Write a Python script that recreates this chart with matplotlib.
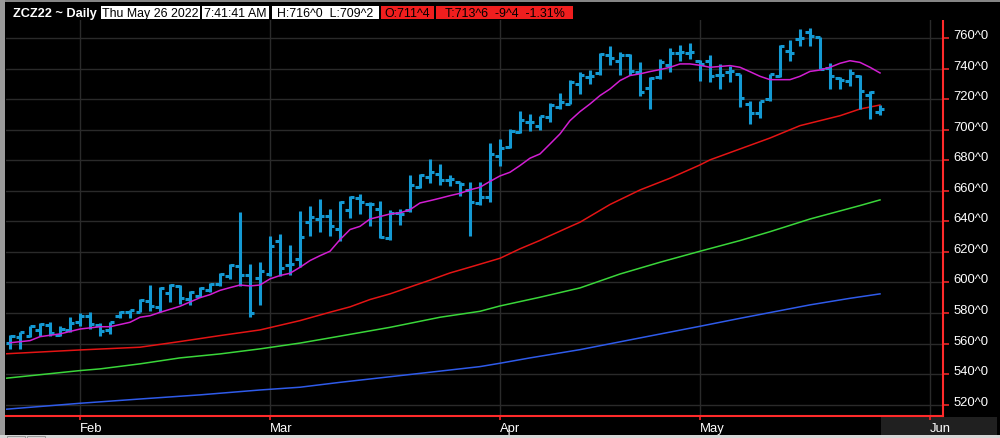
import matplotlib
matplotlib.use('Agg')
import matplotlib.pyplot as plt
from matplotlib.patches import Rectangle

# ---------------- data ----------------
jan_days = [21, 24, 25, 26, 27, 28, 31]
feb_days = [1, 2, 3, 4, 7, 8, 9, 10, 11, 14, 15, 16, 17, 18, 22, 23, 24, 25, 28]
mar_days = [1, 2, 3, 4, 7, 8, 9, 10, 11, 14, 15, 16, 17, 18, 21, 22, 23, 24, 25, 28, 29, 30, 31]
apr_days = [1, 4, 5, 6, 7, 8, 11, 12, 13, 14, 18, 19, 20, 21, 22, 25, 26, 27, 28, 29]
may_days = [2, 3, 4, 5, 6, 9, 10, 11, 12, 13, 16, 17, 18, 19, 20, 23, 24, 25, 26]
dates = ([f"2022-01-{d:02d}" for d in jan_days] + [f"2022-02-{d:02d}" for d in feb_days]
         + [f"2022-03-{d:02d}" for d in mar_days] + [f"2022-04-{d:02d}" for d in apr_days]
         + [f"2022-05-{d:02d}" for d in may_days])

opens = [560.1, 564.5, 564.7, 568.9, 572.1, 565.6, 568.9,
         574.3, 577.8, 572.1, 569.1, 577.8, 580.4, 580.9, 588.1, 583.7, 592.9, 597.9, 589.2, 591.3, 595.3,
         599.0, 604.4, 611.0, 604.9, 602.7,
         605.5, 626.9, 611.7, 615.4, 639.4, 641.5, 643.3, 635.0, 647.6, 655.3, 651.4, 648.1, 628.9, 645.5,
         647.6, 662.3, 668.8, 671.0, 667.1, 665.5, 660.7, 652.0, 655.7,
         682.6, 688.5, 698.7, 705.3, 702.6, 708.1, 714.6, 716.8, 729.9, 734.3, 736.9, 748.9, 745.2, 748.9,
         737.5, 727.1, 734.3, 742.3, 750.2, 750.2,
         745.2, 745.1, 735.7, 737.5, 736.4, 716.8, 710.7, 720.0, 735.3, 751.7, 759.3, 764.1, 760.4, 740.1,
         733.6, 732.0, 735.3, 722.7, 711.5]
highs = [565.8, 567.8, 571.7, 573.2, 573.9, 571.3, 577.2,
         579.8, 580.4, 573.4, 574.3, 581.3, 582.2, 589.2, 598.3, 596.8, 599.0, 598.3, 594.2, 596.8, 599.4,
         606.2, 611.8, 646.0, 612.1, 613.2,
         630.2, 631.5, 624.5, 647.0, 649.8, 654.6, 648.1, 653.5, 656.4, 657.9, 652.9, 653.5, 647.4, 648.1,
         670.3, 671.0, 680.8, 677.5, 670.3, 665.9, 666.0, 666.0, 691.3,
         693.9, 700.5, 712.0, 710.3, 709.2, 717.5, 724.0, 732.5, 737.5, 739.1, 750.0, 754.6, 750.6, 749.2,
         744.1, 734.3, 746.3, 753.5, 755.4, 756.7,
         745.5, 748.8, 743.0, 741.9, 736.6, 719.0, 719.0, 736.4, 755.4, 758.9, 765.9, 766.3, 760.6, 743.6,
         734.7, 739.7, 735.5, 725.5, 716.0]
lows = [556.4, 556.4, 564.1, 565.2, 564.7, 565.2, 567.8,
        571.7, 569.5, 564.7, 566.2, 576.9, 576.5, 580.4, 581.5, 580.4, 587.0, 585.9, 585.2, 590.2, 593.5,
        597.4, 602.2, 597.5, 577.2, 585.5,
        604.0, 604.5, 604.9, 609.9, 630.6, 632.8, 630.6, 627.4, 642.0, 644.8, 637.2, 628.9, 628.0, 637.6,
        646.3, 661.6, 665.1, 663.8, 662.9, 656.8, 630.6, 650.9, 652.9,
        676.0, 687.8, 697.6, 699.4, 700.0, 704.8, 713.5, 716.8, 723.4, 729.9, 735.8, 742.3, 735.8, 735.8,
        722.3, 713.5, 733.2, 738.0, 745.2, 746.3,
        732.1, 731.0, 726.6, 731.0, 714.6, 703.7, 707.4, 719.0, 734.2, 745.1, 755.0, 755.0, 739.7, 726.6,
        726.6, 728.8, 713.5, 707.0, 709.25]
closes = [565.2, 567.8, 571.3, 572.8, 566.7, 569.5, 573.4,
          578.2, 572.8, 568.2, 573.9, 580.9, 581.7, 588.7, 584.8, 596.1, 598.3, 589.6, 593.7, 596.6, 599.0,
          605.7, 611.4, 605.0, 580.0, 607.3,
          624.1, 609.5, 612.1, 629.6, 643.1, 643.3, 636.7, 652.5, 655.7, 652.9, 651.4, 629.6, 645.5, 644.8,
          663.8, 670.6, 672.5, 667.3, 668.0, 664.4, 652.9, 655.7, 684.1,
          688.0, 699.1, 706.6, 705.3, 709.2, 716.4, 718.3, 731.4, 735.8, 734.9, 749.5, 746.7, 748.9, 738.6,
          724.9, 733.6, 744.5, 750.2, 750.6, 751.1,
          743.0, 735.3, 735.7, 738.6, 720.7, 710.7, 719.0, 736.4, 754.9, 749.9, 760.0, 761.5, 739.9, 735.3,
          732.5, 736.8, 725.5, 724.8, 713.75]

# moving averages (bar index, value)
ma_magenta_idx = [0, 2, 3, 5, 7, 9, 10, 12, 13, 14, 15, 17, 19, 20, 21, 22, 23, 24, 25, 26, 27, 28, 29, 30,
                  31, 32, 33, 34, 35, 36, 37, 38, 39, 40, 41, 42, 43, 44, 45, 46, 47, 48, 49, 50, 51, 52,
                  53, 54, 55, 56, 57, 58, 59, 60, 61, 62, 63, 64, 65, 66, 67, 68, 69, 70, 72, 73, 74, 75,
                  76, 78, 79, 80, 81, 82, 83, 84, 85, 86, 87]
ma_magenta = [560.5, 561.9, 564.5, 566.3, 569.5, 571.0, 571.0, 573.9, 577.2, 578.2, 580.4, 584.4, 590.0,
              592.0, 594.8, 596.6, 598.3, 597.7, 598.3, 602.3, 604.5, 606.0, 609.9, 614.3, 617.5, 620.4,
              628.0, 634.6, 636.7, 641.5, 643.1, 644.8, 645.5, 647.6, 652.0, 653.5, 655.1, 656.8, 658.3,
              660.6, 662.3, 666.1, 669.7, 672.1, 676.5, 681.3, 684.1, 690.6, 697.2, 705.9, 711.8, 716.8,
              722.3, 726.6, 732.1, 735.4, 736.5, 738.0, 739.3, 740.8, 743.0, 743.0, 742.1, 740.8, 741.9,
              740.8, 737.9, 734.9, 732.7, 732.7, 734.9, 738.1, 739.0, 740.8, 743.4, 745.1, 744.0, 740.8,
              737.1]
ma_red_idx = [-0.4, 7, 13, 17, 21, 25, 29, 32, 34, 36, 38, 40, 42, 44, 46, 49, 51, 53, 54, 56, 57, 60, 63,
              66, 69, 70, 76, 79, 83, 85, 87]
ma_red = [553.3, 555.8, 557.6, 561.3, 565.2, 568.9, 575.0, 580.5, 584.0, 588.8, 592.5, 597.0, 601.5,
          606.2, 610.0, 615.8, 622.0, 627.5, 630.6, 636.5, 639.4, 651.0, 660.5, 668.2, 676.9, 680.2,
          694.5, 702.6, 709.1, 713.5, 716.1]
ma_green_idx = [-0.4, 7, 9, 13, 17, 21, 25, 29, 32, 38, 43, 47, 49, 53, 57, 61, 65, 69, 73, 76, 80, 85, 87]
ma_green = [537.3, 542.3, 543.4, 546.7, 550.6, 553.2, 556.5, 560.3, 563.7, 570.6, 577.2, 581.1, 584.6,
            590.3, 596.4, 605.5, 613.2, 620.4, 627.4, 633.2, 641.5, 650.3, 654.0]
ma_blue_idx = [-0.4, 7, 13, 19, 25, 29, 33, 39, 47, 49, 52, 57, 62, 69, 73, 80, 84, 87]
ma_blue = [517.0, 520.9, 523.7, 526.4, 529.6, 531.4, 534.6, 539.0, 544.9, 547.1, 550.6, 556.0, 562.4,
           571.3, 576.5, 585.3, 589.6, 592.5]

month_labels = ['Feb', 'Mar', 'Apr', 'May', 'Jun']
month_pos = [7, 26, 49, 69, 92]
yticks = list(range(520, 761, 20))
ytick_labels = [f"{v}^0" for v in yticks]

header_title = "ZCZ22 ~ Daily"
header_white = ["Thu May 26 2022", "7:41:41 AM", "H:716^0  L:709^2"]
header_red = ["O:711^4", "T:713^6  -9^4  -1.31%"]

# ---------------- style ----------------
W, H = 1000, 439
FONT = 'Liberation Sans'
BAR = '#1499d3'
AXRED = '#ff2a2a'
GRID = '#2a2a2a'

fig = plt.figure(figsize=(W / 100, H / 100), dpi=100, facecolor='black')
ax = fig.add_axes([6 / W, 1 - 416.5 / H, (943.3 - 6) / W, (416.5 - 3.5) / H])
ax.set_facecolor('black')

x = list(range(len(dates)))
ax.vlines(x, lows, highs, color=BAR, lw=2.2, zorder=3)
ax.hlines(opens, [i - 0.45 for i in x], x, color=BAR, lw=2.2, zorder=3)
ax.hlines(closes, x, [i + 0.45 for i in x], color=BAR, lw=2.2, zorder=3)

ax.plot(ma_blue_idx, ma_blue, color='#2f5bea', lw=1.1, zorder=2)
ax.plot(ma_green_idx, ma_green, color='#3ad63a', lw=1.1, zorder=2)
ax.plot(ma_red_idx, ma_red, color='#e41414', lw=1.1, zorder=2)
ax.plot(ma_magenta_idx, ma_magenta, color='#d21ed2', lw=1.1, zorder=4)

ax.set_xlim(-0.4, 93.33)
ax.set_ylim(512.9, 783.2)

ax.set_yticks(yticks)
ax.set_yticklabels(ytick_labels)
ax.set_xticks(month_pos)
ax.set_xticklabels(month_labels)
ax.yaxis.tick_right()
ax.tick_params(axis='y', colors=AXRED, labelcolor='white', length=4.5, width=1.1, pad=3.0,
               labelsize=9.4, left=False)
ax.tick_params(axis='x', colors=AXRED, labelcolor='white', length=3, width=1.1, pad=1.5,
               labelsize=9.4)
for lab in ax.get_yticklabels():
    lab.set_fontfamily(FONT)
    lab.set_verticalalignment('baseline')
for lab in ax.get_xticklabels():
    lab.set_fontfamily(FONT)
    lab.set_horizontalalignment('left')

ax.grid(True, color=GRID, lw=1.0)
ax.set_axisbelow(True)
for s in ['left', 'top']:
    ax.spines[s].set_visible(False)
for s in ['right', 'bottom']:
    ax.spines[s].set_color(AXRED)
    ax.spines[s].set_linewidth(1.5)

# frame decorations
def px_rect(x0, y0, x1, y1, color, z, edge='none'):
    fig.patches.append(Rectangle((x0 / W, 1 - y1 / H), (x1 - x0) / W, (y1 - y0) / H,
                                 transform=fig.transFigure, facecolor=color, edgecolor=edge,
                                 lw=0.7, zorder=z))

px_rect(881, 417.5, 997, 435.5, '#202020', -1)
px_rect(0, 0, 1000, 2.7, '#858585', 10)
px_rect(0, 0, 5, 439, '#9a9a9a', 10)
px_rect(0, 436, 1000, 439, '#d6d6d6', 10)
px_rect(7, 436.5, 25, 439.5, '#d6d6d6', 11, edge='#9a9a9a')
px_rect(27, 436.5, 45, 439.5, '#d6d6d6', 11, edge='#9a9a9a')

# header
px_rect(0, 2.7, 1000, 21, 'black', 8)
fig.text(13 / W, 1 - 13.6 / H, header_title, color='white', fontsize=9.2, fontweight='bold',
         family=FONT, va='center', ha='left', zorder=12)
white_boxes = [(101, 200), (202, 269), (272, 379)]
red_boxes = [(381, 434), (436, 573)]
for (x0, x1), txt in zip(white_boxes, header_white):
    px_rect(x0, 7.3, x1, 19.6, 'white', 11)
    fig.text((x0 + x1) / 2 / W, 1 - 13.8 / H, txt, color='black', fontsize=8.9, family=FONT,
             va='center', ha='center', zorder=12)
for (x0, x1), txt in zip(red_boxes, header_red):
    px_rect(x0, 7.3, x1, 19.6, '#f01e1e', 11)
    fig.text((x0 + x1) / 2 / W, 1 - 13.8 / H, txt, color='black', fontsize=8.9, family=FONT,
             va='center', ha='center', zorder=12)

fig.savefig('out.png', dpi=100, facecolor='black')
